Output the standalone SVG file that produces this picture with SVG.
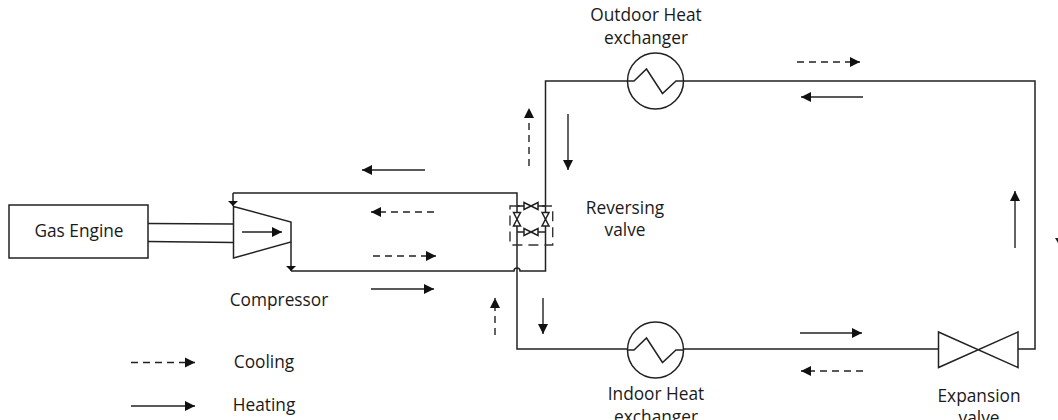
<svg xmlns="http://www.w3.org/2000/svg" width="1058" height="420" viewBox="0 0 1058 420">
<style>
text{font-family:"Open Sans","Noto Sans","DejaVu Sans",sans-serif;font-size:17.300px;fill:#1a1a1a;text-anchor:middle}
.l{fill:none;stroke:#222;stroke-width:1.5}
.s{fill:#fff;stroke:#222;stroke-width:1.5}
.a{fill:none;stroke:#222;stroke-width:1.4;marker-end:url(#h)}
.d{stroke-dasharray:7 5}
</style>
<defs>
<marker id="h" markerUnits="userSpaceOnUse" markerWidth="11" markerHeight="11" refX="10" refY="5.500" orient="auto"><path d="M0 0.500L10 5.500L0 10.500Z" fill="#111"/></marker>
<marker id="t" markerUnits="userSpaceOnUse" markerWidth="6" markerHeight="11" refX="5" refY="5.500" orient="auto"><path d="M0 0.500L5 5.500L0 10.500Z" fill="#111"/></marker>
</defs>
<g id="connectors">
<path class="l" d="M233 193H517V349H938"/>
<path class="l" d="M233 193V206" marker-end="url(#t)"/>
<path class="l" d="M291 242V271" marker-end="url(#t)"/>
<path class="l" d="M291 271H514A3 3 0 0 1 520 271H545.500V81H1035V349H1018"/>
<path class="l" d="M148 223.500L233.500 224M148 241.500L233.500 242.500"/>
<path class="a" d="M425 170H362"/>
<path class="a" d="M371 289H434"/>
<path class="a" d="M863 97H801"/>
<path class="a" d="M800 333H862"/>
<path class="a" d="M1015 248V191"/>
<path class="a" d="M568 114V170"/>
<path class="a" d="M543 298V334"/>
<path class="a d" d="M434 212H371"/>
<path class="a d" d="M373 256H436"/>
<path class="a d" d="M797 62H860"/>
<path class="a d" d="M863 371H801"/>
<path class="a d" d="M529 166V108"/>
<path class="a d" d="M495 335V298"/>
</g>
<g id="gas-engine"><rect class="s" x="9" y="205" width="139" height="53"/><text x="79" y="237">Gas Engine</text></g>
<g id="compressor"><path class="s" d="M233.500 206.500L291 222V242L233.500 258Z"/><path class="a" d="M242 232H282"/><text x="279" y="306">Compressor</text></g>
<g id="reversing-valve">
<path d="M510 206H552.700V245H510Z" fill="none" stroke="#333" stroke-width="1.400" stroke-dasharray="10 6"/>
<path class="l" d="M517 206H524M538 206H545.500M517 232H524M538 232H545.500"/>
<path class="s" d="M524 202.500L538 209.500V202.500L524 209.500ZM524 228.500L538 235.500V228.500L524 235.500ZM513.500 212.500L520.500 226H513.500L520.500 212.500ZM542 212.500L549 226H542L549 212.500Z"/>
<text x="625" y="214">Reversing</text><text x="625" y="236">valve</text></g>
<g id="outdoor-heat-exchanger"><circle class="s" cx="655.500" cy="81" r="28"/><path class="l" d="M627.500 81H634L646.500 69L662.500 93.500L676 81H683.500"/><text x="646" y="21">Outdoor Heat</text><text x="646" y="44">exchanger</text></g>
<g id="indoor-heat-exchanger"><circle class="s" cx="655.500" cy="350" r="28"/><path class="l" d="M627.500 350H634L646.500 338L662.500 362.500L676 350H683.500"/><text x="656" y="400">Indoor Heat</text><text x="656" y="423">exchanger</text></g>
<g id="expansion-valve"><path class="s" d="M938.500 332L1018 367.500V332L938.500 367.500Z"/><text x="979" y="402">Expansion</text><text x="979" y="424">valve</text></g>
<g id="legend">
<path class="a d" d="M131 362.500H195"/><text x="264" y="368">Cooling</text>
<path class="a" d="M131 406H195"/><text x="264" y="411">Heating</text>
</g>
<path d="M1055 238L1058 243V238Z" fill="#222"/>
</svg>
